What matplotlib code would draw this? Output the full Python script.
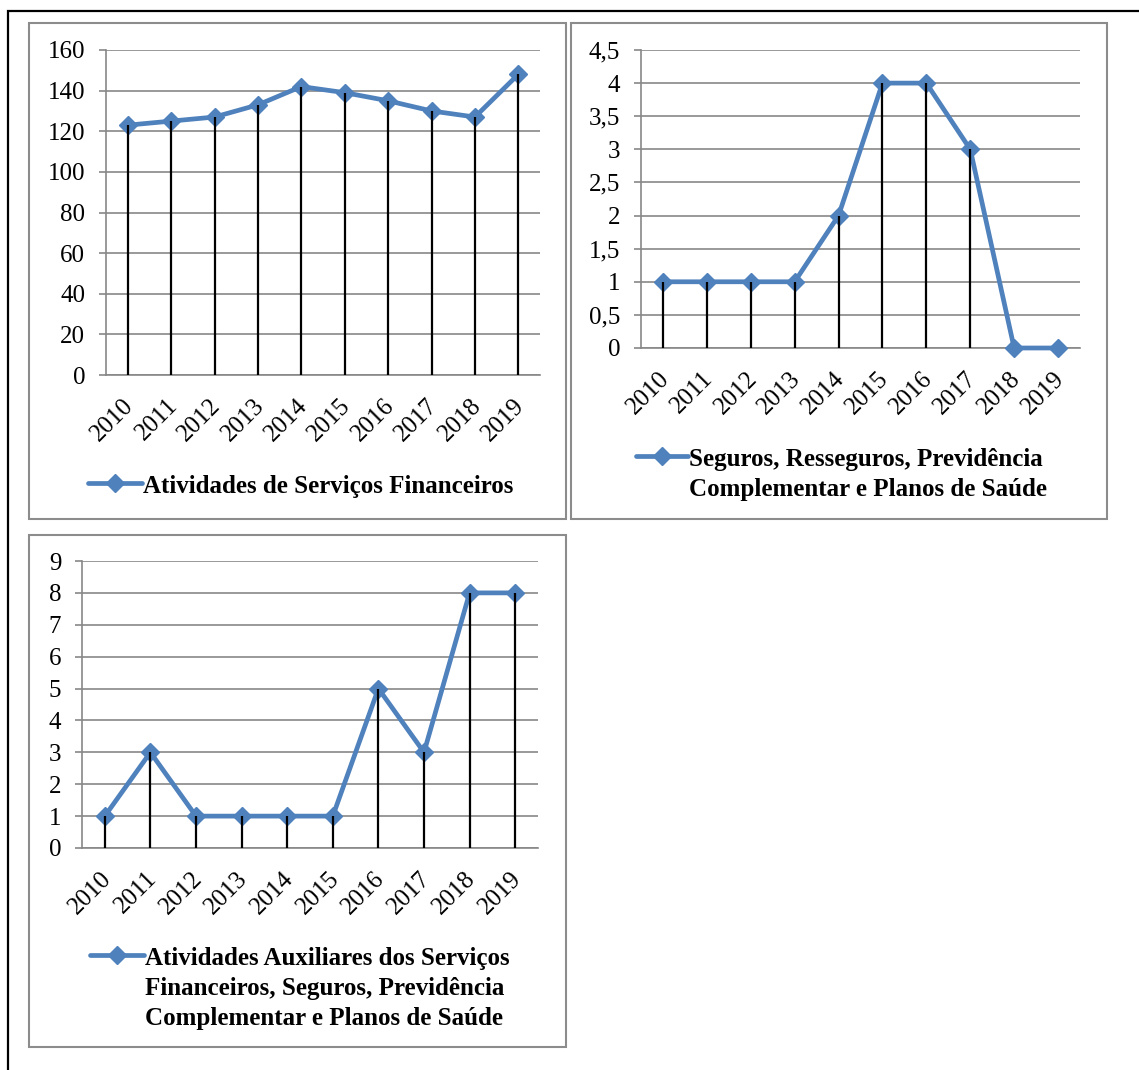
import matplotlib
matplotlib.use("Agg")
import matplotlib.pyplot as plt
from matplotlib.patches import Rectangle
from matplotlib.lines import Line2D
from matplotlib.transforms import ScaledTranslation

plt.rcParams['font.family'] = ['Liberation Serif', 'DejaVu Serif']

years = ['2010', '2011', '2012', '2013', '2014', '2015', '2016', '2017', '2018', '2019']
financeiros = [123, 125, 127, 133, 142, 139, 135, 130, 127, 148]
seguros = [1, 1, 1, 1, 2, 4, 4, 3, 0, 0]
auxiliares = [1, 3, 1, 1, 1, 1, 5, 3, 8, 8]

label1 = "Atividades de Serviços Financeiros"
label2 = "Seguros, Resseguros, Previdência\nComplementar e Planos de Saúde"
label3 = "Atividades Auxiliares dos Serviços\nFinanceiros, Seguros, Previdência\nComplementar e Planos de Saúde"

yticks1 = [0, 20, 40, 60, 80, 100, 120, 140, 160]
yticks2 = [0, 0.5, 1, 1.5, 2, 2.5, 3, 3.5, 4, 4.5]
yticks3 = [0, 1, 2, 3, 4, 5, 6, 7, 8, 9]

W, H = 1139, 1070
fig = plt.figure(figsize=(W / 100, H / 100), dpi=100)

BLUE = '#4F81BD'
GRID = '#878787'
FS = 18
LFS = 18


def fx(px):
    return px / W


def fy(py):
    return 1 - py / H


def make_axes(x0, x1, ytop, ybot):
    return fig.add_axes([fx(x0), fy(ybot), fx(x1 - x0), (ybot - ytop) / H])


def style(ax, vals, yticks, ylabels):
    x = list(range(len(years)))
    ax.set_xlim(-0.5, len(years) - 0.5)
    ax.set_ylim(yticks[0], yticks[-1])
    ax.set_yticks(yticks)
    ax.set_yticklabels(ylabels, fontsize=FS)
    ax.set_xticks(x)
    ax.set_xticklabels(years, fontsize=FS, rotation=45, ha='right', va='top',
                       rotation_mode='anchor')
    ax.tick_params(axis='x', length=0, pad=14)
    ax.tick_params(axis='y', length=5, width=1.2, color=GRID, pad=10)
    off = ScaledTranslation(-5 / 100, 0, fig.dpi_scale_trans)
    for lab in ax.get_xticklabels():
        lab.set_transform(lab.get_transform() + off)
    ax.grid(axis='y', color=GRID, lw=1.2)
    ax.set_axisbelow(True)
    for s in ['top', 'right']:
        ax.spines[s].set_visible(False)
    for s in ['left', 'bottom']:
        ax.spines[s].set_color(GRID)
        ax.spines[s].set_linewidth(1.2)
    ax.plot(x, vals, color=BLUE, lw=3.4, marker='D', markersize=9.5,
            markerfacecolor=BLUE, markeredgecolor=BLUE, zorder=3, clip_on=False)
    ax.vlines(x, 0, vals, color='black', lw=1.6, zorder=4)


ax1 = make_axes(106, 540, 50, 375)
style(ax1, financeiros, yticks1, [str(v) for v in yticks1])

ax2 = make_axes(641, 1080, 50, 348)
style(ax2, seguros, yticks2, [str(v).replace('.', ',') if v != int(v) else str(int(v)) for v in yticks2])

ax3 = make_axes(82, 538, 561, 848)
style(ax3, auxiliares, yticks3, [str(v) for v in yticks3])


def legend(x0, x1, y, tx, text):
    fig.add_artist(Line2D([fx(x0), fx(x1)], [fy(y), fy(y)], color=BLUE, lw=3.4,
                          solid_capstyle='round', transform=fig.transFigure))
    fig.add_artist(Line2D([fx((x0 + x1) / 2)], [fy(y)], marker='D', markersize=9.5,
                          color=BLUE, transform=fig.transFigure))
    fig.text(fx(tx), fy(y - 8), text, fontsize=LFS, fontweight='bold', ha='left',
             va='top', linespacing=1.38)


legend(88, 142, 483, 143, label1)
legend(636, 688, 456, 689, label2)
legend(90, 144, 955, 145, label3)

# panel borders
for (x0, y0, x1, y1) in [(29, 23, 566, 519), (571, 23, 1107, 519), (29, 535, 566, 1047)]:
    fig.add_artist(Rectangle((fx(x0), fy(y1)), fx(x1 - x0), (y1 - y0) / H,
                             fill=False, edgecolor='#8c8c8c', lw=1.5,
                             transform=fig.transFigure))

# outer frame
fig.add_artist(Rectangle((fx(8), -0.05), 1.1, fy(11) + 0.05, fill=False,
                         edgecolor='black', lw=1.6, transform=fig.transFigure,
                         clip_on=False))

fig.savefig('out.png', dpi=100)
